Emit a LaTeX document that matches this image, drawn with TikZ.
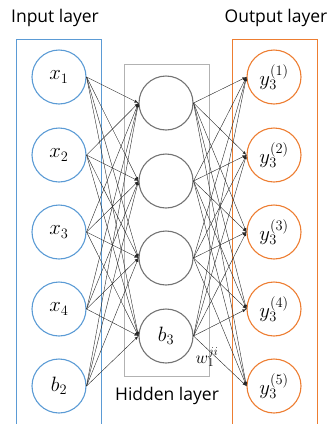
\documentclass[tikz,border=0pt]{standalone}
\usepackage{fontspec}
\setsansfont{Open Sans}
\usetikzlibrary{positioning}

\definecolor{inblue}{RGB}{91,155,213}
\definecolor{outorange}{RGB}{237,125,49}

\begin{document}
\begin{tikzpicture}[
    x=1pt, y=-1pt,
    neuron/.style={circle, draw, line width=1.1pt, minimum size=54pt, inner sep=0pt, text=black, font=\fontsize{22}{24}\selectfont},
    inneuron/.style={neuron, draw=inblue},
    outneuron/.style={neuron, draw=outorange},
    hidneuron/.style={neuron, draw=black!55},
    layerbox/.style={draw, line width=0.8pt},
    title/.style={font=\sffamily\fontsize{17.5}{20}\selectfont},
    weight/.style={-latex, black!85, line width=0.4pt},
]
\useasboundingbox (0, 0) rectangle (332, 424);

\draw[layerbox, inblue] (16, 39) rectangle (101, 440);
\draw[layerbox, outorange] (232, 39) rectangle (317, 440);
\draw[layerbox, black!30] (124, 64) rectangle (209, 376);

\node[title] (intitle) at (55, 18) {Input layer};
\node[title] (outtitle) at (276, 18) {Output layer};
\node[title] (hidtitle) at (167, 396) {Hidden layer};

\node[inneuron] (in1) at (59, 77) {$x_1$};
\node[inneuron] (in2) at (59, 155) {$x_2$};
\node[inneuron] (in3) at (59, 232) {$x_3$};
\node[inneuron] (in4) at (59, 309) {$x_4$};
\node[inneuron] (in5) at (59, 386) {$b_2$};

\node[hidneuron] (hid1) at (166, 103) {};
\node[hidneuron] (hid2) at (166, 181) {};
\node[hidneuron] (hid3) at (166, 258) {};
\node[hidneuron] (hid4) at (166, 336) {$b_3$};

\node[outneuron] (out1) at (274, 77) {$y_3^{(1)}$};
\node[outneuron] (out2) at (274, 155) {$y_3^{(2)}$};
\node[outneuron] (out3) at (274, 232) {$y_3^{(3)}$};
\node[outneuron] (out4) at (274, 309) {$y_3^{(4)}$};
\node[outneuron] (out5) at (274, 386) {$y_3^{(5)}$};

% weights input -> hidden -> output
\foreach \i in {1,...,5}
  \foreach \j in {1,...,4} {
    \draw[weight] (in\i.east) -- (hid\j.west);
    \draw[weight] (hid\j.east) -- (out\i.west);
  }

\node[font=\fontsize{18}{20}\selectfont] (wlabel) at (207, 357) {$w_1^{ji}$};
\end{tikzpicture}
\end{document}
